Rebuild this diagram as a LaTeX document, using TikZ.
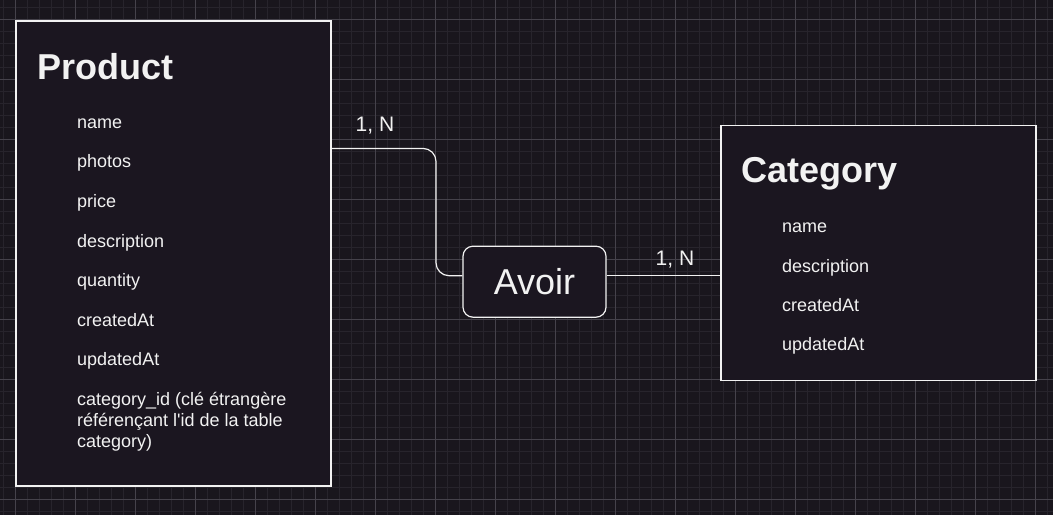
\documentclass[tikz,border=0pt]{standalone}
\usepackage{fontspec}
\setmainfont{Liberation Sans}[Ligatures=TeXOff]
\definecolor{canvas}{HTML}{19161D}
\definecolor{gridminor}{HTML}{27242C}
\definecolor{gridmajor}{HTML}{45424B}
\definecolor{boxfill}{HTML}{1B1620}
\definecolor{ink}{HTML}{F2F2F2}
\tikzset{
  entity/.style={draw=ink, fill=boxfill, line width=1.2pt, inner sep=0pt},
  relation/.style={entity, rounded corners=10pt},
  title/.style={text=ink, anchor=base west, inner sep=0pt, font=\fontsize{36}{43}\selectfont\bfseries},
  attr/.style={text=ink, anchor=base west, inner sep=0pt, font=\fontsize{18}{21}\selectfont},
  card/.style={text=ink, anchor=base west, inner sep=0pt, font=\fontsize{21}{25}\selectfont},
  link/.style={draw=ink, line width=1.2pt}
}
\begin{document}
\begin{tikzpicture}[x=1pt,y=-1pt]
      \useasboundingbox (0,0) rectangle (1053,515);
      \fill[canvas] (0,0) rectangle (1053,515);
      % grid
      \foreach \x in {3,15,...,1053}
        \draw[gridminor, line width=0.6pt] (\x,0) -- (\x,515);
      \foreach \y in {7,19,...,515}
        \draw[gridminor, line width=0.6pt] (0,\y) -- (1053,\y);
      \foreach \x in {15,75,...,1053}
        \draw[gridmajor, line width=0.6pt] (\x,0) -- (\x,515);
      \foreach \y in {19,79,...,515}
        \draw[gridmajor, line width=0.6pt] (0,\y) -- (1053,\y);
      % entities
      \node[entity, minimum width=315pt, minimum height=465pt] (product) at (173.5,253.5) {};
      \node[entity, minimum width=315pt, minimum height=255pt] (category) at (878.5,253.3) {};
      \node[relation, minimum width=143pt, minimum height=71pt, text=ink,
        font=\fontsize{36}{43}\selectfont] (avoir) at (534.5,281.7) {Avoir};
      % texts
      \node[title] (producttitle) at (37.3,79.3) {Product};
      \node[attr] (pname) at (77,128) {name};
      \node[attr] (pphotos) at (77,167) {photos};
      \node[attr] (pprice) at (77,207) {price};
      \node[attr] (pdesc) at (77,247) {description};
      \node[attr] (pqty) at (77,286) {quantity};
      \node[attr] (pcreated) at (77,326) {createdAt};
      \node[attr] (pupdated) at (77,365) {updatedAt};
      \node[attr, align=left] (pcatid) at (77,447)
        {category\_id (clé étrangère\\référençant l'id de la table\\category)};
      \node[title] (categorytitle) at (741.5,182.7) {Category};
      \node[attr] (cname) at (782,232.7) {name};
      \node[attr] (cdesc) at (782,272.7) {description};
      \node[attr] (ccreated) at (782,311.7) {createdAt};
      \node[attr] (cupdated) at (782,350.7) {updatedAt};
      % links
      \coordinate (bend) at (436,212);
      \draw[link, rounded corners=13pt] ([yshift=-128pt]product.north east) -| (bend)
        |- ([yshift=6pt]avoir.west);
      \draw[link] ([yshift=6pt]avoir.east) -- ([yshift=6pt]avoir.east -| category.west);
      \node[card] (leftcard) at (355.5,131) {1, N};
      \node[card] (rightcard) at (655.5,265.7) {1, N};
    \end{tikzpicture}
\end{document}
